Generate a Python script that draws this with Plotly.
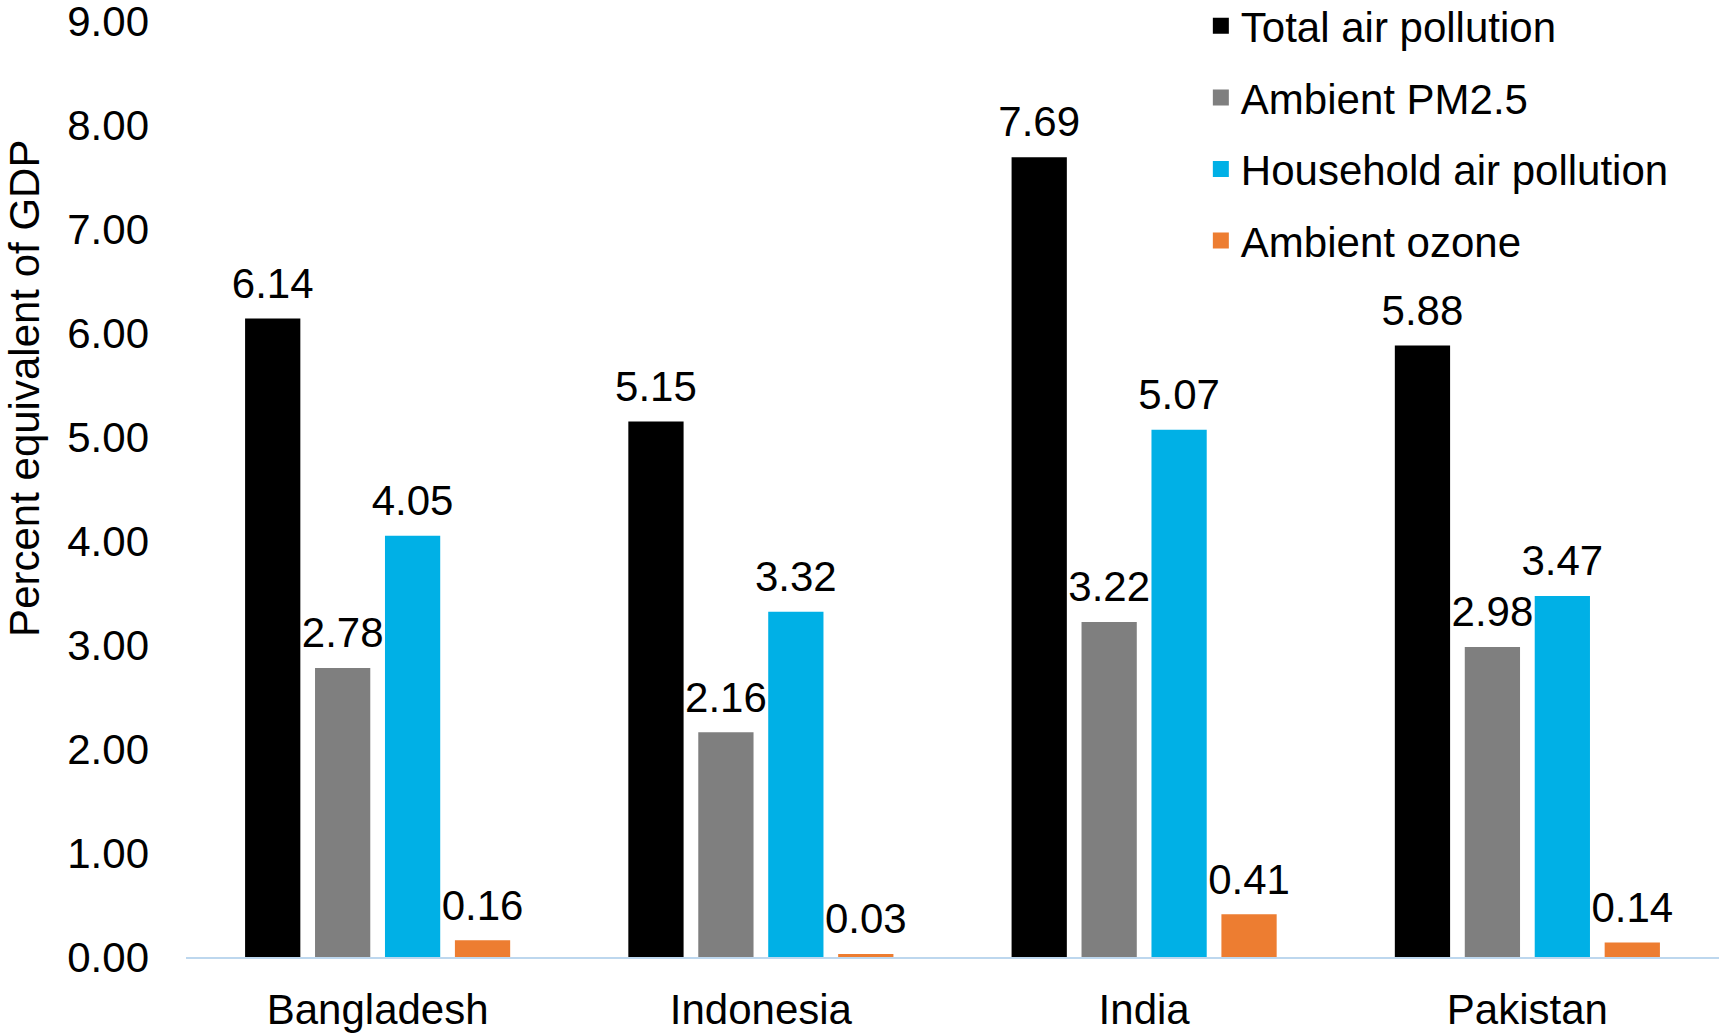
import plotly.graph_objects as go

countries = ["Bangladesh", "Indonesia", "India", "Pakistan"]
series_names = ["Total air pollution", "Ambient PM2.5", "Household air pollution", "Ambient ozone"]
total_air = [6.14, 5.15, 7.69, 5.88]
ambient_pm25 = [2.78, 2.16, 3.22, 2.98]
household_air = [4.05, 3.32, 5.07, 3.47]
ambient_ozone = [0.16, 0.03, 0.41, 0.14]
y_ticks = [0, 1, 2, 3, 4, 5, 6, 7, 8, 9]

colors = ["#000000", "#7f7f7f", "#00b0e6", "#ed7d31"]
values = [total_air, ambient_pm25, household_air, ambient_ozone]

FONT = "Liberation Sans, Arial, sans-serif"
FS = 42
LABEL_PAD = 0.085  # gap between bar top and its value label, in axis units

fig = go.Figure()
for i, (name, vals, col) in enumerate(zip(series_names, values, colors)):
    fig.add_trace(go.Bar(
        x=countries, y=vals, name=name, offsetgroup=str(i),
        marker=dict(color=col, line=dict(width=0)),
        showlegend=False,
    ))
    # invisible spacer carrying the value label slightly above the bar
    fig.add_trace(go.Bar(
        x=countries, y=[LABEL_PAD] * len(vals), base=vals, offsetgroup=str(i),
        marker=dict(color="rgba(0,0,0,0)", line=dict(width=0)),
        text=vals, texttemplate="%{text:.2f}", textposition="outside",
        textfont=dict(family=FONT, size=FS, color="#000000"),
        cliponaxis=False, showlegend=False, hoverinfo="skip",
    ))
# legend entries (square markers)
for i, (name, col) in enumerate(zip(series_names, colors)):
    fig.add_trace(go.Scatter(
        x=[None], y=[None], mode="markers", name=name,
        marker=dict(symbol="square", size=20, color=col),
        legendgroup=f"g{i}", showlegend=True,
    ))

fig.update_layout(
    width=1719, height=1033,
    margin=dict(l=186, r=0, t=21, b=76, autoexpand=False),
    paper_bgcolor="white", plot_bgcolor="white",
    barmode="group", bargap=0.27, bargroupgap=0.21,
    font=dict(family=FONT, size=FS, color="#000000"),
    showlegend=True,
    legend=dict(
        x=0.662, y=1.031, xanchor="left", yanchor="top",
        font=dict(family=FONT, size=FS, color="#000000"),
        bgcolor="rgba(0,0,0,0)", tracegroupgap=14, itemwidth=30,
    ),
    uniformtext=dict(minsize=FS, mode="show"),
)
fig.update_xaxes(
    showline=True, linecolor="#bdd7ee", linewidth=2,
    showgrid=False, ticks="", ticklabelstandoff=15,
    tickfont=dict(family=FONT, size=FS, color="#000000"),
)
fig.update_yaxes(
    range=[0, 9], tickvals=y_ticks, tickformat=".2f",
    showline=False, showgrid=False, zeroline=False, ticks="",
    ticklabelstandoff=36, ticklabeloverflow="allow",
    tickfont=dict(family=FONT, size=FS, color="#000000"),
)
fig.add_annotation(
    text="Percent equivalent of GDP", textangle=-90,
    xref="paper", yref="paper", x=-0.105, y=0.607,
    xanchor="center", yanchor="middle", showarrow=False,
    font=dict(family=FONT, size=FS, color="#000000"),
)

fig.write_html(
    "out.html",
    config={"displayModeBar": False},
    post_script="document.body.style.margin='0';document.body.style.overflow='hidden';",
)
